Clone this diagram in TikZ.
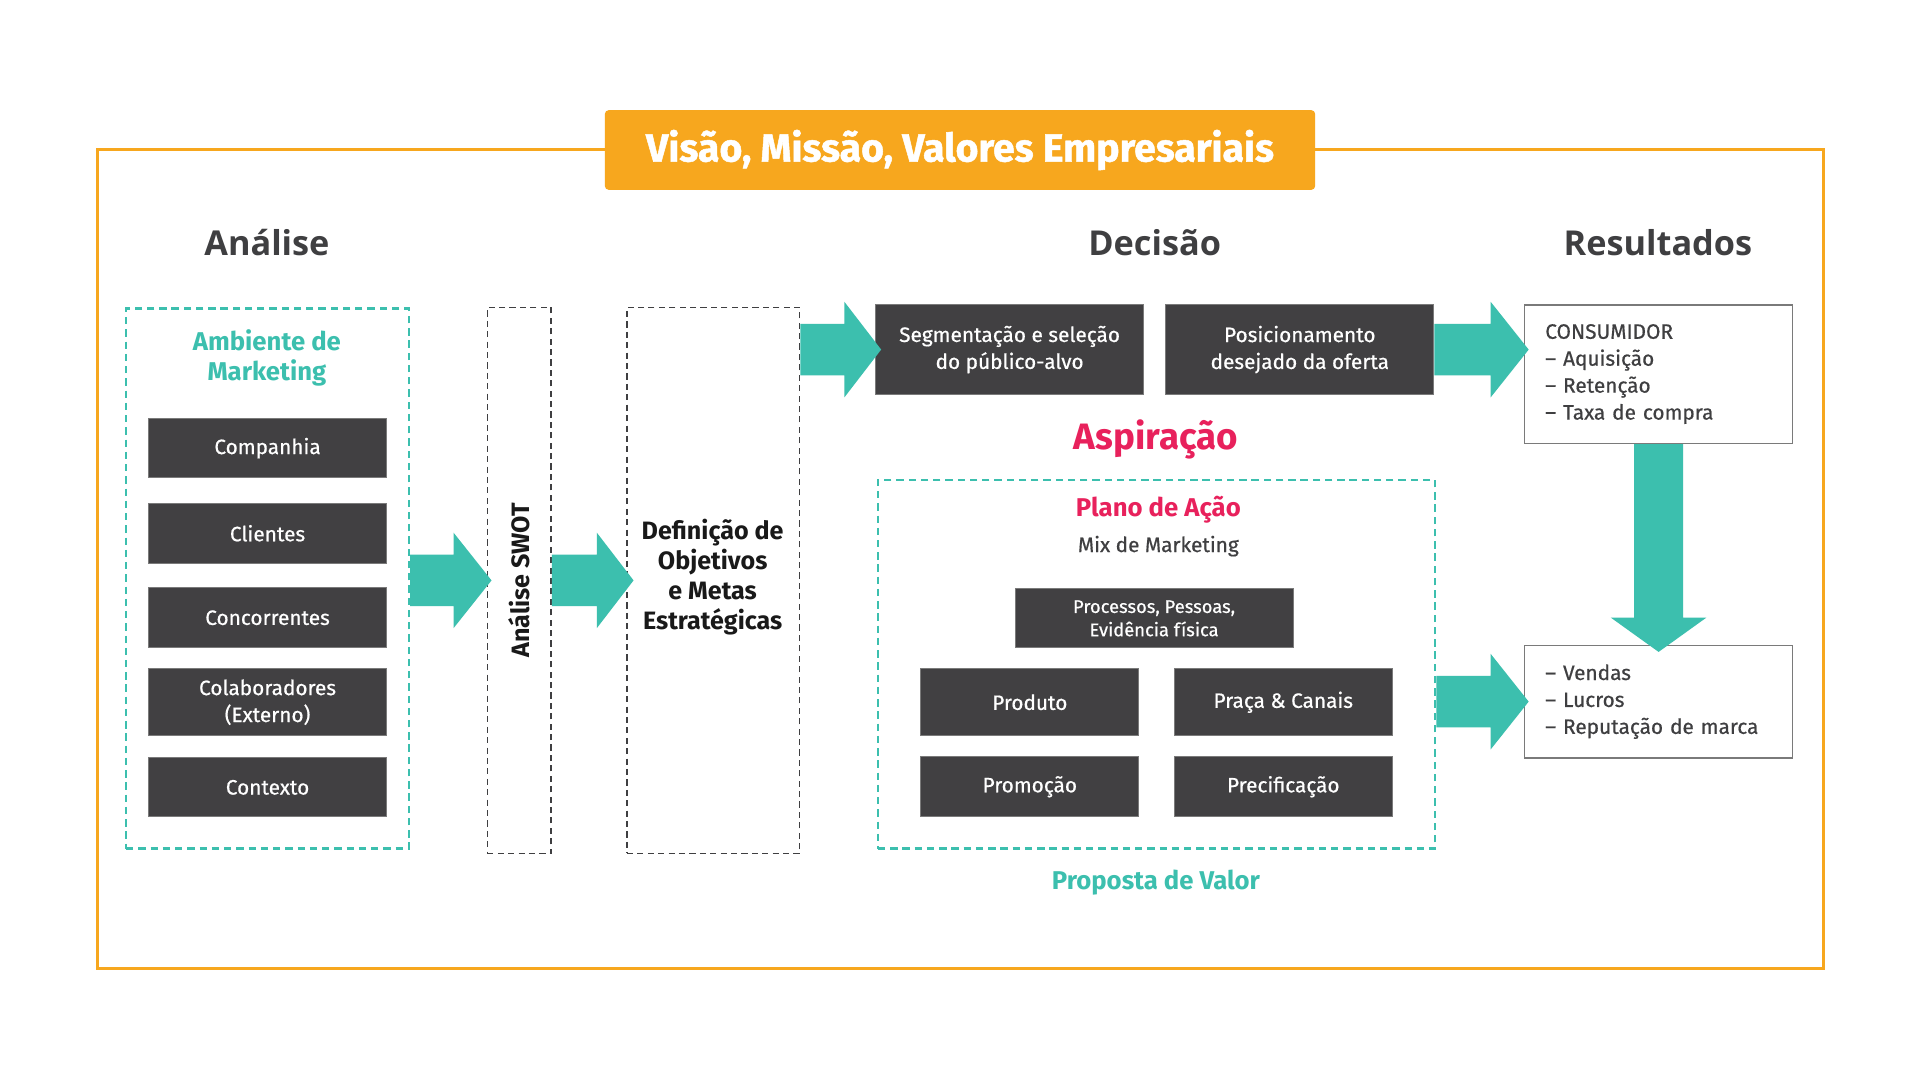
\documentclass[tikz,border=0pt]{standalone}
\usepackage{fontspec}
\setmainfont{Fira Sans}
\newfontfamily\headfont{Open Sans}
\newfontfamily\medfont{Fira Sans}[FakeBold=0.6]
\newfontfamily\titlefont{Fira Sans}[FakeBold=1.2]
\usetikzlibrary{calc}
\definecolor{orangeF}{HTML}{F7A71E}
\definecolor{tealA}{HTML}{3CBFAE}
\definecolor{boxgray}{HTML}{414042}
\definecolor{crim}{HTML}{E8215C}
\definecolor{txtgray}{HTML}{3F3F41}
\definecolor{edgegray}{HTML}{7A7A7A}
\newcommand\rarrow[3]{% start, tip, head length
  \fill[tealA] let \p1=#1, \p2=#2 in
    (\x1,\y2+21) -- (\x2-#3,\y2+21) -- (\x2-#3,\y2+39) -- (\x2,\y2)
    -- (\x2-#3,\y2-39) -- (\x2-#3,\y2-21) -- (\x1,\y2-21) -- cycle;}
\newcommand\darrow[3]{% start, tip, head length
  \fill[tealA] let \p1=#1, \p2=#2 in
    (\x2-20,\y1) -- (\x2-20,\y2+#3) -- (\x2-39,\y2+#3) -- (\x2,\y2)
    -- (\x2+39,\y2+#3) -- (\x2+20,\y2+#3) -- (\x2+20,\y1) -- cycle;}
\tikzset{
  dbox/.style={fill=boxgray, draw=edgegray, line width=0.8pt, text=white, align=center, inner sep=0pt, font=\medfont\fontsize{17}{22}\selectfont},
  tealdash/.style={draw=tealA, line width=2pt, dash pattern=on 6pt off 4pt, inner sep=0pt},
  blackdash/.style={draw=txtgray, line width=1.2pt, dash pattern=on 5pt off 3.5pt, inner sep=0pt},
  resbox/.style={draw=edgegray, line width=1.2pt, fill=white, align=left, inner xsep=17pt, inner ysep=0pt, text=txtgray, font=\medfont\fontsize{17}{22}\selectfont},
  header/.style={text=txtgray, font=\headfont\bfseries\fontsize{28}{32}\selectfont},
  boldblack/.style={text=black!90, font=\bfseries\fontsize{20.5}{24.5}\selectfont, align=center},
}
\begin{document}
\begin{tikzpicture}[x=1pt,y=-1pt]
\useasboundingbox (0,0) rectangle (1568,883);
\fill[white] (0,0) rectangle (1568,883);
% outer frame
\draw[orangeF, line width=2.5pt] (80,122) rectangle (1489,791);
\node[fill=orangeF, rounded corners=3pt, minimum width=580pt, minimum height=65pt, text=white, font=\titlefont\bfseries\fontsize{32}{36}\selectfont] (title) at (784,122.5) {Visão, Missão, Valores Empresariais};
% headers
\node[header] (hA) at (218,198) {Análise};
\node[header] (hD) at (943,198) {Decisão};
\node[header] (hR) at (1354,198) {Resultados};
% left environment
\node[tealdash, minimum width=231pt, minimum height=441pt] (amb) at (218.5,472.5) {};
\node[text=tealA, font=\bfseries\fontsize{21}{24.5}\selectfont, align=center] (ambt) at (218,292) {Ambiente de\\Marketing};
\node[dbox, minimum width=195pt, minimum height=48pt] (comp) at (218.5,366) {Companhia};
\node[dbox, minimum width=195pt, minimum height=49pt] (cli) at (218.5,435.5) {Clientes};
\node[dbox, minimum width=195pt, minimum height=49pt] (conc) at (218.5,504.5) {Concorrentes};
\node[dbox, minimum width=195pt, minimum height=55pt] (colab) at (218.5,573.5) {Colaboradores\\(Externo)};
\node[dbox, minimum width=195pt, minimum height=48pt] (cont) at (218.5,643) {Contexto};
% SWOT and definition
\node[blackdash, minimum width=52pt, minimum height=446pt] (swot) at (424,474) {};
\node[boldblack, rotate=90] (swott) at (swot.center) {Análise SWOT};
\node[blackdash, minimum width=141pt, minimum height=446pt] (defin) at (582.5,474) {};
\node[boldblack] (defint) at (582,471) {Definição de\\Objetivos\\e Metas\\Estratégicas};
% decision top boxes
\node[dbox, minimum width=219pt, minimum height=73pt] (seg) at (824.5,285.5) {Segmentação e seleção\\do público-alvo};
\node[dbox, minimum width=219pt, minimum height=73pt] (pos) at (1061.5,285.5) {Posicionamento\\desejado da oferta};
\node[text=crim, font=\bfseries\fontsize{30}{34}\selectfont] (asp) at (944,359) {Aspiração};
% plan box
\node[tealdash, minimum width=455pt, minimum height=301pt] (plan) at (944.5,542.5) {};
\node[text=crim, font=\bfseries\fontsize{21}{24}\selectfont] (plant) at (946,416) {Plano de Ação};
\node[text=txtgray, font=\medfont\fontsize{17}{20}\selectfont] (mix) at (946,446) {Mix de Marketing};
\node[dbox, minimum width=227pt, minimum height=48pt, font=\medfont\fontsize{15}{19}\selectfont] (proc) at (942.5,505) {Processos, Pessoas,\\Evidência física};
\node[dbox, minimum width=178pt, minimum height=55pt] (prod) at (841,573.5) {Produto};
\node[dbox, minimum width=178pt, minimum height=55pt] (praca) at (1048,573.5) {Praça \& Canais};
\node[dbox, minimum width=178pt, minimum height=49pt] (prom) at (841,642.5) {Promoção};
\node[dbox, minimum width=178pt, minimum height=49pt] (prec) at (1048,642.5) {Precificação};
\node[text=tealA, font=\bfseries\fontsize{21}{24}\selectfont] (prop) at (944,721) {Proposta de Valor};
% results
\node[resbox, minimum height=113pt, text width=185pt] (cons) at (1354.5,305.5) {CONSUMIDOR\\– Aquisição\\– Retenção\\– Taxa de compra};
\node[resbox, minimum height=92pt, text width=185pt] (res) at (1354.5,573) {– Vendas\\– Lucros\\– Reputação de marca};
% arrows
\rarrow{(amb.east)}{($(swot.west)+(4,0)$)}{31}
\rarrow{(swot.east)}{($(defin.west)+(6,0)$)}{30}
\rarrow{(defin.east)}{($(seg.west)+(5,0)$)}{30}
\rarrow{(pos.east)}{($(cons.west |- pos.east)+(4,0)$)}{31}
\rarrow{(plan.east)}{($(res.west)+(4,0)$)}{31}
\darrow{(cons.south)}{($(res.north)+(0,6)$)}{28}
\end{tikzpicture}
\end{document}
